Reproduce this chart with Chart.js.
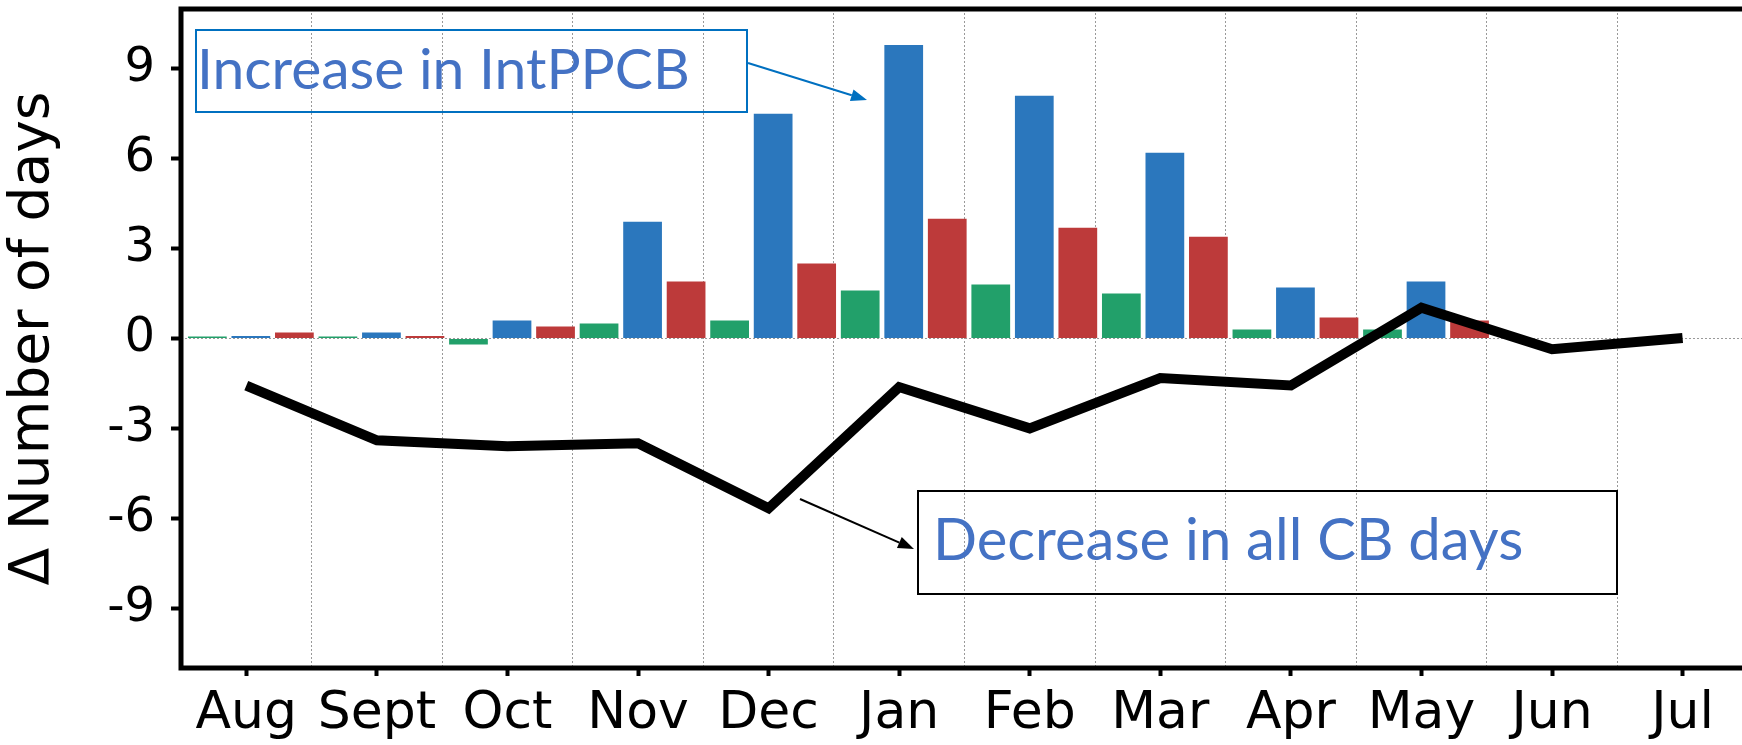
<!DOCTYPE html>
<html>
<head>
<meta charset="utf-8">
<script src="https://cdn.jsdelivr.net/npm/chart.js@4.4.1/dist/chart.umd.min.js"></script>
<style>
  html, body { margin: 0; padding: 0; background: #fff; overflow: hidden; }
  #wrap { position: relative; width: 1742px; height: 745px; }
  #wrap canvas { position: absolute; left: 0; top: 0; }
  .note { position: absolute; box-sizing: border-box; background: transparent; }
  .note span {
    position: absolute; font-family: Lato, "Open Sans", sans-serif; font-size: 57px;
    line-height: 57px; color: #4472c4; white-space: nowrap;
  }
</style>
</head>
<body>
<div id="wrap">
  <canvas id="chart" width="1742" height="745"></canvas>
  <div class="note" style="left:195px; top:29px; width:553px; height:84px; border:2px solid #0070c0;">
    <span style="left:0px; top:8px;">Increase in IntPPCB</span>
  </div>
  <div class="note" style="left:917px; top:490px; width:701px; height:105px; border:2px solid #000;">
    <span style="left:14px; top:17px; font-size:58px;">Decrease in all CB days</span>
  </div>
</div>
<script>
// Months of the season, Aug to Jul
const months = ['Aug', 'Sept', 'Oct', 'Nov', 'Dec', 'Jan', 'Feb', 'Mar', 'Apr', 'May', 'Jun', 'Jul'];
const yTickValues = [-9, -6, -3, 0, 3, 6, 9];

// Change in number of days per month
const greenSeries = [0.07, 0.07, -0.2, 0.5, 0.6, 1.6, 1.8, 1.5, 0.3, 0.3, 0, 0];
const blueSeries  = [0.08, 0.2, 0.6, 3.9, 7.5, 9.8, 8.1, 6.2, 1.7, 1.9, 0, 0];
const redSeries   = [0.2, 0.08, 0.4, 1.9, 2.5, 4.0, 3.7, 3.4, 0.7, 0.6, 0, 0];
const allCBSeries = [-1.57, -3.4, -3.6, -3.5, -5.67, -1.62, -3.0, -1.32, -1.57, 1.03, -0.36, 0.02];

const BAR_SHIFT = 0.035;
const X_MIN = -0.5, X_MAX = 11.455;
const barPoints = arr => arr.map((v, i) => ({ x: i + BAR_SHIFT, y: v }));
const linePoints = arr => arr.map((v, i) => ({ x: i, y: v }));

// Axes frame: left, top and bottom spines
const axesFrame = {
  id: 'axesFrame',
  afterDatasetsDraw(chart) {
    const { ctx, chartArea: { left, top, right, bottom } } = chart;
    ctx.save();
    ctx.strokeStyle = '#000';
    ctx.lineWidth = 5;
    ctx.lineJoin = 'miter';
    ctx.beginPath();
    ctx.moveTo(right + 10, top);
    ctx.lineTo(left, top);
    ctx.lineTo(left, bottom);
    ctx.lineTo(right + 10, bottom);
    ctx.stroke();
    ctx.restore();
  }
};

// Callout arrows
function arrow(ctx, x1, y1, x2, y2, color, head, half) {
  const a = Math.atan2(y2 - y1, x2 - x1);
  const bx = x2 - head * Math.cos(a), by = y2 - head * Math.sin(a);
  ctx.save();
  ctx.strokeStyle = color; ctx.fillStyle = color; ctx.lineWidth = 2;
  ctx.beginPath(); ctx.moveTo(x1, y1); ctx.lineTo(bx, by); ctx.stroke();
  ctx.beginPath();
  ctx.moveTo(x2, y2);
  ctx.lineTo(bx + half * Math.sin(a), by - half * Math.cos(a));
  ctx.lineTo(bx - half * Math.sin(a), by + half * Math.cos(a));
  ctx.closePath(); ctx.fill();
  ctx.restore();
}
const callouts = {
  id: 'callouts',
  afterDraw(chart) {
    const ctx = chart.ctx;
    arrow(ctx, 748, 63, 867, 100, '#0070c0', 16, 6);
    arrow(ctx, 800, 499, 914, 549, '#000', 16, 6);
  }
};

const noEdgePadding = s => { s.paddingLeft = 0; s.paddingRight = 0; s.paddingTop = 0; s.paddingBottom = 0; };

new Chart(document.getElementById('chart'), {
  type: 'bar',
  data: {
    datasets: [
      {
        type: 'line', label: 'All CB days', data: linePoints(allCBSeries),
        borderColor: '#000', borderWidth: 10, pointRadius: 0, tension: 0,
        borderJoinStyle: 'miter', fill: false, order: 0
      },
      { label: 'Green', data: barPoints(greenSeries), backgroundColor: '#22a06a', order: 1 },
      { label: 'IntPPCB', data: barPoints(blueSeries), backgroundColor: '#2b77bd', order: 1 },
      { label: 'Red', data: barPoints(redSeries), backgroundColor: '#bd3a3a', order: 1 }
    ]
  },
  options: {
    responsive: false,
    animation: false,
    devicePixelRatio: 1,
    layout: { padding: { top: 9, left: 0, right: 0, bottom: 0 } },
    plugins: { legend: { display: false }, tooltip: { enabled: false } },
    datasets: { bar: { categoryPercentage: 1.0, barPercentage: 0.89, borderWidth: 0 } },
    scales: {
      x: {
        type: 'linear', position: 'bottom', min: X_MIN, max: X_MAX, offset: false,
        afterBuildTicks: s => { s.ticks = months.map((_, i) => ({ value: i })); },
        afterFit: s => { s.height = 77; noEdgePadding(s); },
        ticks: {
          callback: v => months[v] ?? '', autoSkip: false, maxRotation: 0, padding: 7,
          color: '#000', font: { family: 'DejaVu Sans', size: 52 }
        },
        grid: { offset: false, drawOnChartArea: false, drawTicks: true, tickLength: 8, tickWidth: 4, tickColor: '#000' },
        border: { display: false }
      },
      xg: {
        type: 'linear', position: 'top', min: X_MIN, max: X_MAX, offset: false,
        afterBuildTicks: s => { s.ticks = months.slice(1).map((_, i) => ({ value: i + 0.5 })); },
        afterFit: s => { s.height = 0; noEdgePadding(s); },
        ticks: { display: false },
        grid: { offset: false, drawTicks: false, color: 'rgba(0,0,0,0.4)', lineWidth: 1 },
        border: { display: false, dash: [2, 2] }
      },
      y: {
        type: 'linear', position: 'left', min: -11, max: 11,
        afterBuildTicks: s => { s.ticks = yTickValues.map(v => ({ value: v })); },
        afterFit: s => { s.width = 181; noEdgePadding(s); },
        ticks: {
          padding: 16, color: '#000', font: { family: 'DejaVu Sans', size: 48 },
          callback: v => String(v)
        },
        grid: {
          color: c => (c.tick && c.tick.value === 0) ? 'rgba(0,0,0,0.4)' : 'rgba(0,0,0,0)',
          lineWidth: 1, drawTicks: true, tickLength: 10, tickWidth: 4, tickColor: '#000'
        },
        border: { display: false, dash: [2, 2] },
        title: {
          display: true, text: 'Δ Number of days', color: '#000',
          font: { family: 'DejaVu Sans', size: 55 }, padding: { top: 1, bottom: 0 }
        }
      }
    }
  },
  plugins: [axesFrame, callouts]
});
</script>
</body>
</html>
